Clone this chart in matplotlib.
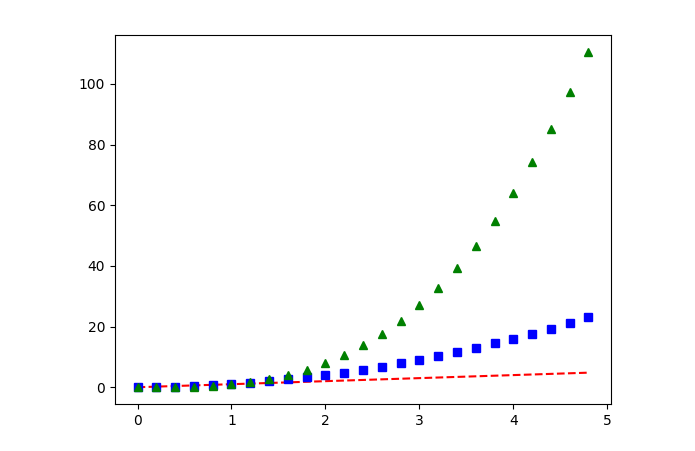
import matplotlib
matplotlib.use('Agg')
import matplotlib.pyplot as plt

# sample times and the three series
t = [0.0, 0.2, 0.4, 0.6, 0.8, 1.0, 1.2, 1.4, 1.6, 1.8, 2.0, 2.2, 2.4,
     2.6, 2.8, 3.0, 3.2, 3.4, 3.6, 3.8, 4.0, 4.2, 4.4, 4.6, 4.8]
linear = [0.0, 0.2, 0.4, 0.6, 0.8, 1.0, 1.2, 1.4, 1.6, 1.8, 2.0, 2.2, 2.4,
          2.6, 2.8, 3.0, 3.2, 3.4, 3.6, 3.8, 4.0, 4.2, 4.4, 4.6, 4.8]
square = [0.0, 0.04, 0.16, 0.36, 0.64, 1.0, 1.44, 1.96, 2.56, 3.24, 4.0,
          4.84, 5.76, 6.76, 7.84, 9.0, 10.24, 11.56, 12.96, 14.44, 16.0,
          17.64, 19.36, 21.16, 23.04]
cube = [0.0, 0.008, 0.064, 0.216, 0.512, 1.0, 1.728, 2.744, 4.096, 5.832,
        8.0, 10.648, 13.824, 17.576, 21.952, 27.0, 32.768, 39.304, 46.656,
        54.872, 64.0, 74.088, 85.184, 97.336, 110.592]

fig = plt.figure(figsize=(6.95, 4.51), dpi=100)
# axes box placed by pixels: left 115, right 611, top 35, bottom 404
ax = fig.add_axes([115 / 695, (451 - 404) / 451, 496 / 695, 369 / 451])

ax.plot(t, linear, 'r--')
ax.plot(t, square, 'bs')
ax.plot(t, cube, 'g^')

fig.savefig('out.png', dpi=100)
